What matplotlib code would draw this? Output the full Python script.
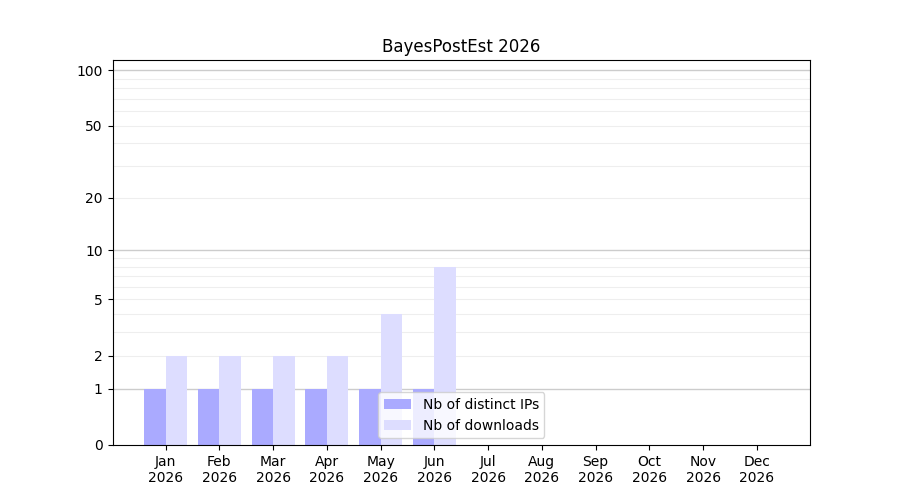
import numpy as np
import matplotlib
matplotlib.use("Agg")
import matplotlib.pyplot as plt

months = ["Jan", "Feb", "Mar", "Apr", "May", "Jun",
          "Jul", "Aug", "Sep", "Oct", "Nov", "Dec"]
year = "2026"
ips = [1, 1, 1, 1, 1, 1, 0, 0, 0, 0, 0, 0]
downloads = [2, 2, 2, 2, 4, 8, 0, 0, 0, 0, 0, 0]

yticks = [0, 1, 2, 5, 10, 20, 50, 100]
major_grid = [1, 10, 100]
minor_grid = [2, 3, 4, 5, 6, 7, 8, 9, 20, 30, 40, 50, 60, 70, 80, 90]


def fwd(y):
    return np.log10(1 + np.clip(y, 0, None))


def inv(y):
    return 10 ** y - 1


fig, ax = plt.subplots(figsize=(9, 5), dpi=100)
x = np.arange(len(months))

ax.set_yscale("function", functions=(fwd, inv))

for v in minor_grid:
    ax.axhline(v, color="#eeeeee", lw=0.8, zorder=0)
for v in major_grid:
    ax.axhline(v, color="#cccccc", lw=1.0, zorder=0)

ax.bar(x - 0.2, ips, width=0.4, color="#aaaaff", label="Nb of distinct IPs", zorder=2)
ax.bar(x + 0.2, downloads, width=0.4, color="#ddddff", label="Nb of downloads", zorder=2)

ax.set_xticks(x)
ax.set_xticklabels([f"{m}\n{year}" for m in months])
ax.set_yticks(yticks)
ax.set_yticklabels([str(t) for t in yticks])
ax.yaxis.set_minor_locator(matplotlib.ticker.NullLocator())
ax.set_ylim(0, 113.5)

ax.set_title("BayesPostEst 2026")
ax.legend(loc="lower center")

plt.savefig("out.png", dpi=100)
